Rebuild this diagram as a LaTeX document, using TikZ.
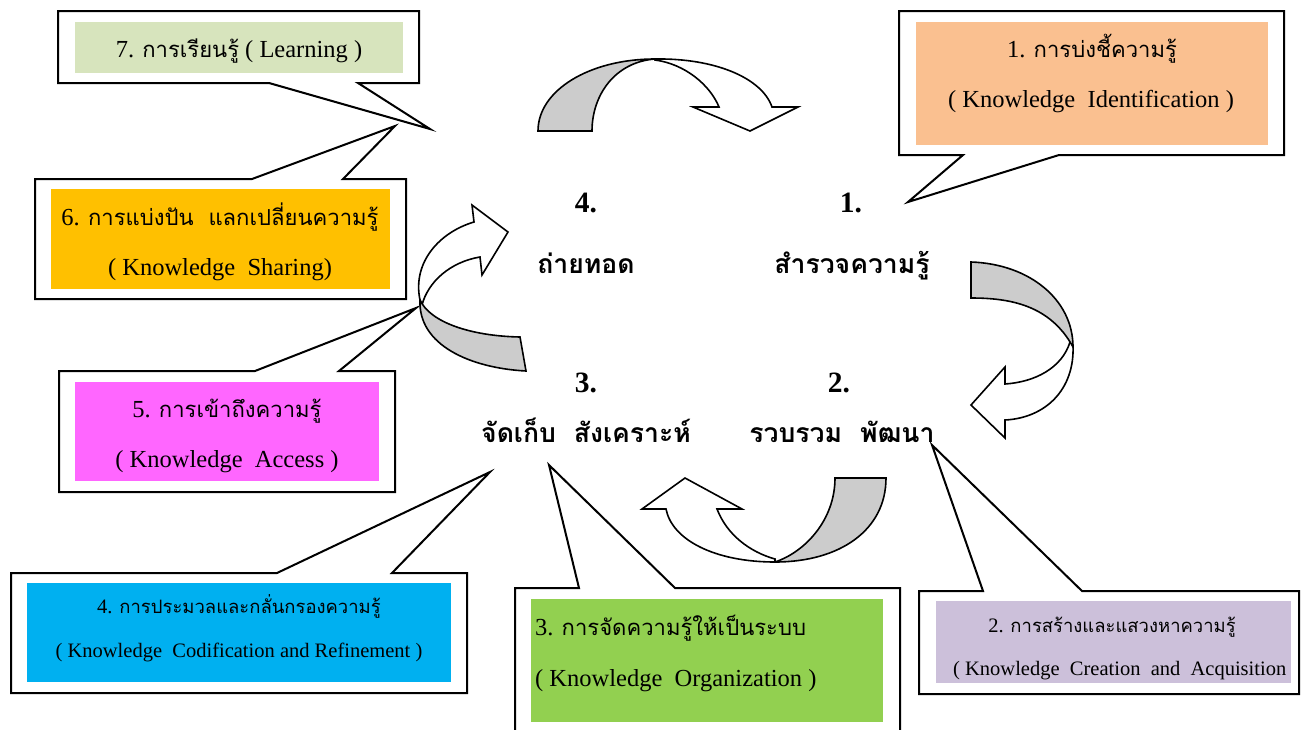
\documentclass[tikz,border=0pt]{standalone}
\usepackage{fontspec}
\setmainfont{Liberation Serif}
\newfontfamily\thaifont[Script=Thai,Scale=0.9]{Loma}
\newcommand{\tha}[1]{{\thaifont #1}}
\definecolor{csev}{HTML}{D7E4BD}
\definecolor{csix}{HTML}{FFC000}
\definecolor{cone}{HTML}{FAC090}
\definecolor{cfive}{HTML}{FF66FF}
\definecolor{cfour}{HTML}{00B0F0}
\definecolor{cthree}{HTML}{92D050}
\definecolor{ctwo}{HTML}{CCC0DA}
\definecolor{bandgray}{HTML}{CCCCCC}
\begin{document}
\begin{tikzpicture}[x=1pt,y=-1pt,line join=miter,
  callout/.style={draw=black,line width=2pt,fill=white},
  frontband/.style={draw=black,line width=1.6pt,fill=white},
  backband/.style={draw=black,line width=1.6pt,fill=bandgray},
  lbl/.style={inner sep=0pt,anchor=base,font=\fontsize{24.5}{28}\selectfont},
  slbl/.style={inner sep=0pt,anchor=base,font=\fontsize{20.5}{24}\selectfont},
  biglbl/.style={inner sep=0pt,anchor=base,font=\fontsize{29.5}{34}\selectfont\bfseries}]
\useasboundingbox (0,0) rectangle (1310,729);
\clip (0,0) rectangle (1310,729);
\fill[white] (0,0) rectangle (1310,729);

% ---------- callouts ----------
% 7 Learning
\draw[callout] (58,11) -- (419,11) -- (419,83) -- (358,83) -- (430,129) -- (269,83) -- (58,83) -- cycle;
\fill[csev] (75,22) rectangle (403,73);
\node[lbl] (t7) at (239,57) {7. \tha{การเรียนรู้} ( Learning )};
% 6 Sharing
\draw[callout] (35,179) -- (252,179) -- (395,126) -- (343,179) -- (406,179) -- (406,299) -- (35,299) -- cycle;
\fill[csix] (51,189) rectangle (390,289);
\node[lbl] (t6a) at (220,225) {6. \tha{การแบ่งปัน\ \ แลกเปลี่ยนความรู้}};
\node[lbl] (t6b) at (220,275) {( Knowledge\ \ Sharing)};
% 1 Identification
\draw[callout] (899,11) -- (1284,11) -- (1284,155) -- (1059,155) -- (908,202) -- (963,155) -- (899,155) -- cycle;
\fill[cone] (916,22) rectangle (1268,145);
\node[lbl] (t1a) at (1092,57) {1. \tha{การบ่งชี้ความรู้}};
\node[lbl] (t1b) at (1091,107) {( Knowledge\ \ Identification )};
% 5 Access
\draw[callout] (59,371) -- (255,371) -- (416,308) -- (339,371) -- (395,371) -- (395,492) -- (59,492) -- cycle;
\fill[cfive] (75,382) rectangle (379,481);
\node[lbl] (t5a) at (227,417) {5. \tha{การเข้าถึงความรู้}};
\node[lbl] (t5b) at (227,467) {( Knowledge\ \ Access )};
% 4 Codification
\draw[callout] (11,573) -- (277,573) -- (490,472) -- (392,573) -- (467,573) -- (467,693) -- (11,693) -- cycle;
\fill[cfour] (27,583) rectangle (451,682);
\node[slbl] (t4a) at (239,613) {4. \tha{การประมวลและกลั่นกรองความรู้}};
\node[slbl] (t4b) at (239,657) {( Knowledge\ \ Codification and Refinement )};
% 3 Organization
\draw[callout] (515,588) -- (579,588) -- (549,465) -- (675,588) -- (900,588) -- (900,760) -- (515,760) -- cycle;
\fill[cthree] (531,599) rectangle (883,722);
\node[lbl,anchor=base west] (t3a) at (535,635) {3. \tha{การจัดความรู้ให้เป็นระบบ}};
\node[lbl,anchor=base west] (t3b) at (535,686) {( Knowledge\ \ Organization )};
% 2 Creation
\draw[callout] (919,591) -- (983,591) -- (932,445) -- (1082,591) -- (1299,591) -- (1299,694) -- (919,694) -- cycle;
\fill[ctwo] (936,601) rectangle (1291,683);
\node[slbl] (t2a) at (1112,632) {2. \tha{การสร้างและแสวงหาความรู้}};
\node[slbl,anchor=base west] (t2b) at (953,675) {( Knowledge\ \ Creation\ \ and\ \ Acquisition};

% ---------- centre labels ----------
\node[biglbl] (n4) at (586,212) {4.};
\node[biglbl] (w4) at (586,273) {\tha{ถ่ายทอด}};
\node[biglbl] (n1) at (851,212) {1.};
\node[biglbl] (w1) at (852,273) {\tha{สำรวจความรู้}};
\node[biglbl] (n3) at (586,392) {3.};
\node[biglbl] (w3) at (586,442) {\tha{จัดเก็บ\ \ สังเคราะห์}};
\node[biglbl] (n2) at (839,392) {2.};
\node[biglbl] (w2) at (842,442) {\tha{รวบรวม\ \ พัฒนา}};

% ---------- curved arrows ----------
% top (4 -> 1)
\draw[frontband] (655,59) .. controls (715,58) and (762,78) .. (772,107) -- (798,107) -- (750,131) -- (693,107) -- (719,107) .. controls (710,85) and (685,64) .. (655,60) -- cycle;
\draw[backband] (538,131) .. controls (538,90) and (590,59) .. (655,59) .. controls (615,62) and (592,95) .. (592,131) -- cycle;
% right (1 -> 2)
\draw[frontband] (1073,345) .. controls (1075,390) and (1045,418) .. (1005,420) -- (1005,438) -- (971,405) -- (1005,367) -- (1005,384) .. controls (1035,382) and (1062,368) .. (1070,342) -- cycle;
\draw[backband] (971,262) .. controls (1030,264) and (1073,300) .. (1073,347) .. controls (1050,305) and (1010,298) .. (971,298) -- cycle;
% bottom (2 -> 3)
\draw[frontband] (775,562) .. controls (715,562) and (672,540) .. (666,509) -- (642,509) -- (685,478) -- (742,509) -- (717,509) .. controls (727,535) and (750,552) .. (775,559) -- cycle;
\draw[backband] (835,478) -- (886,478) .. controls (886,530) and (840,562) .. (775,562) .. controls (805,552) and (835,520) .. (835,478) -- cycle;
% left (3 -> 4)
\draw[frontband] (420,300) .. controls (412,262) and (440,232) .. (474,222) -- (472,205) -- (508,232) -- (482,275) -- (480,257) .. controls (450,262) and (428,282) .. (422,305) -- cycle;
\draw[backband] (420,300) .. controls (418,345) and (470,368) .. (526,371) -- (520,337) .. controls (470,336) and (430,322) .. (420,300) -- cycle;
\end{tikzpicture}
\end{document}
